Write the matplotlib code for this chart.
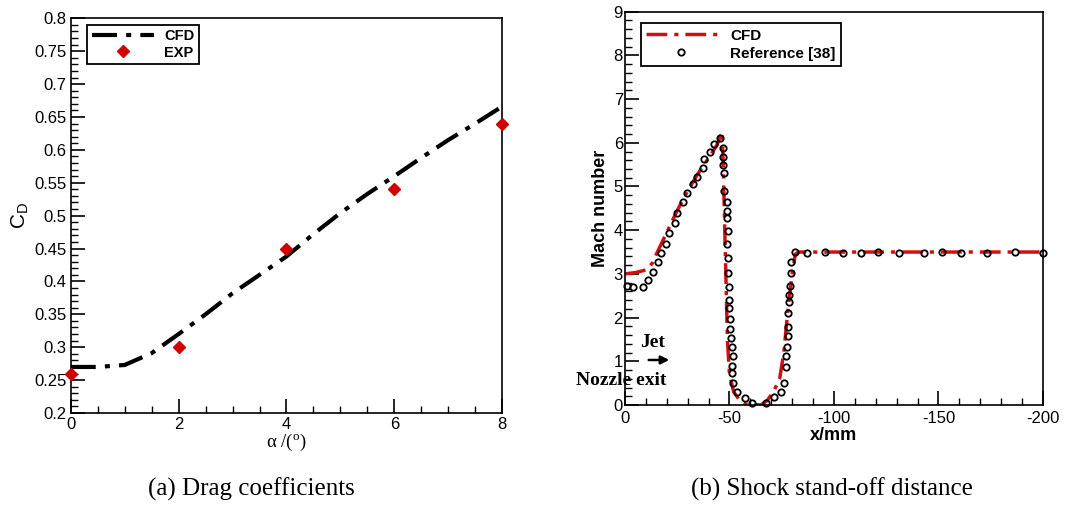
import matplotlib.pyplot as plt
import numpy as np
from matplotlib.ticker import MultipleLocator

plt.rcParams["font.family"] = ["Liberation Sans", "DejaVu Sans"]
plt.rcParams["mathtext.fontset"] = "custom"
plt.rcParams["mathtext.rm"] = "Liberation Sans"
plt.rcParams["axes.unicode_minus"] = False

# (a) drag coefficient vs angle of attack
cfd_alpha = [0, 0.5, 1, 1.5, 2, 2.5, 3, 3.5, 4, 4.5, 5, 5.5, 6, 6.5, 7, 7.5, 8]
cfd_cd = [0.270, 0.270, 0.273, 0.291, 0.320, 0.350, 0.382, 0.410, 0.438, 0.472,
          0.504, 0.533, 0.560, 0.588, 0.615, 0.640, 0.666]
exp_alpha = [0, 2, 4, 6, 8]
exp_cd = [0.26, 0.30, 0.45, 0.54, 0.64]

# (b) Mach number along the axis
cfd_x = [0, -5, -10, -13, -16, -20, -25, -30, -35, -40, -44, -46.5, -47, -47.5,
         -48, -48.5, -49, -50, -52, -55, -58, -65, -68, -71, -74, -76, -78, -80,
         -81.5, -83, -200]
cfd_ma = [3.0, 3.03, 3.09, 3.24, 3.55, 3.95, 4.45, 4.9, 5.3, 5.65, 5.95, 6.25,
          5.5, 4.5, 3.5, 2.5, 1.5, 0.7, 0.3, 0.1, 0.02, 0.0, 0.1, 0.3, 0.6, 1.2,
          2.2, 3.0, 3.45, 3.5, 3.5]
ref_x = [-1, -3.7, -8.8, -11.2, -13.6, -15.7, -17.3, -19.7, -21.2, -23.7, -24.8,
         -27.6, -29.8, -32.4, -34.6, -37.2, -37.7, -40.5, -42.8, -45.7,
         -46.8, -46.9, -47.1, -47.3, -47.2, -48.6, -48.9, -48.6, -49.2, -48.6,
         -49.2, -49.3, -49.7, -50.0, -50.0, -50.2, -50.2, -50.5, -51.0, -51.6,
         -51.3, -51.3, -51.8, -53.7, -57.2, -60.9, -67.3, -71.3, -74.5, -76.1,
         -76.9, -77.2, -77.7, -78.0, -78.0, -78.0, -78.5, -78.5, -79.0, -79.6,
         -79.6, -81.3, -87.3, -95.7, -104.2, -113.0, -121.3, -130.9, -143.1,
         -151.9, -161.0, -173.0, -186.7, -200]
ref_ma = [2.72, 2.69, 2.71, 2.85, 3.05, 3.27, 3.47, 3.68, 3.93, 4.17, 4.39,
          4.64, 4.86, 5.05, 5.22, 5.42, 5.62, 5.78, 5.97, 6.12,
          5.87, 5.68, 5.48, 5.30, 4.90, 4.64, 4.45, 4.27, 3.97, 3.68,
          3.36, 3.01, 2.69, 2.40, 2.21, 1.96, 1.75, 1.53, 1.33, 1.12,
          0.89, 0.74, 0.50, 0.30, 0.17, 0.04, 0.04, 0.19, 0.30, 0.51,
          0.88, 1.12, 1.33, 1.58, 1.79, 2.10, 2.36, 2.52, 2.72, 3.01,
          3.28, 3.49, 3.47, 3.49, 3.47, 3.48, 3.49, 3.47, 3.47,
          3.50, 3.47, 3.47, 3.49, 3.47]

fig = plt.figure(figsize=(10.8, 5.07), dpi=100)

# ---- panel (a)
ax1 = fig.add_axes([0.0655, 0.1854, 0.3995, 0.7785])
ax1.plot(cfd_alpha, cfd_cd, color="black", lw=3, dashes=(6, 2.2, 1.2, 2.2), label="CFD")
ax1.plot(exp_alpha, exp_cd, ls="none", marker="D", ms=6, color="#d00000",
         mec="#d00000", label="EXP", clip_on=False, zorder=5)
ax1.set_xlim(0, 8)
ax1.set_ylim(0.2, 0.8)
ax1.xaxis.set_major_locator(MultipleLocator(2))
ax1.xaxis.set_minor_locator(MultipleLocator(0.5))
ax1.yaxis.set_major_locator(MultipleLocator(0.05))
ax1.yaxis.set_minor_locator(MultipleLocator(0.01))
ax1.yaxis.set_major_formatter(lambda v, p: f"{v:.2f}".rstrip("0").rstrip("."))
ax1.tick_params(which="both", direction="in", top=False, right=False, labelsize=12, pad=3)
ax1.tick_params(which="major", length=10, width=1.2)
ax1.tick_params(which="minor", length=5, width=1)
ax1.set_xlabel(r"$\mathregular{\alpha}$ /($\mathregular{^o}$)", fontsize=13.5, labelpad=0,
               family=["Liberation Serif", "DejaVu Serif"])
ax1.set_ylabel(r"C$_\mathregular{D}$", fontsize=15, labelpad=2)
leg1 = ax1.legend(loc="upper left", bbox_to_anchor=(0.038, 0.983), borderaxespad=0,
                  fancybox=False, edgecolor="black", framealpha=1, handlelength=4.3,
                  borderpad=0.3, labelspacing=0.15, handletextpad=0.7,
                  prop={"weight": "bold", "size": 10.5})
leg1.get_frame().set_linewidth(1.3)
for s in ax1.spines.values():
    s.set_linewidth(1.2)

# ---- panel (b)
ax2 = fig.add_axes([0.5787, 0.2012, 0.387, 0.7758])
ax2.plot(cfd_x, cfd_ma, color="#d01010", lw=2.5, dashes=(6, 2, 1.2, 2), label="CFD")
ax2.plot(ref_x, ref_ma, ls="none", marker="o", ms=4.6, mfc="none", mec="black",
         mew=1.3, label="Reference [38]", clip_on=False, zorder=5)
ax2.set_xlim(0, -200)
ax2.set_ylim(0, 9)
ax2.xaxis.set_major_locator(MultipleLocator(50))
ax2.xaxis.set_minor_locator(MultipleLocator(10))
ax2.yaxis.set_major_locator(MultipleLocator(1))
ax2.yaxis.set_minor_locator(MultipleLocator(0.2))
ax2.tick_params(which="both", direction="in", top=False, right=False, labelsize=12, pad=1.5)
ax2.tick_params(axis="x", pad=4)
ax2.tick_params(which="major", length=10, width=1.2)
ax2.tick_params(which="minor", length=5, width=1)
ax2.set_xlabel("x/mm", fontsize=13, fontweight="bold", labelpad=1)
ax2.set_ylabel("Mach number", fontsize=13, fontweight="bold", labelpad=3)
leg2 = ax2.legend(loc="upper left", bbox_to_anchor=(0.038, 0.970), borderaxespad=0,
                  fancybox=False, edgecolor="black", framealpha=1, handlelength=4.6,
                  borderpad=0.35, labelspacing=0.25, handletextpad=0.9,
                  prop={"weight": "bold", "size": 11})
leg2.get_frame().set_linewidth(1.3)
for s in ax2.spines.values():
    s.set_linewidth(1.2)

ax2.text(-13.4, 1.42, "Jet", family="Liberation Serif", fontweight="bold", fontsize=14,
         ha="center", va="center")
ax2.annotate("", xy=(-22.5, 1.03), xytext=(-10, 1.03),
             arrowprops=dict(arrowstyle="-|>", color="black", lw=1.8, mutation_scale=12))
ax2.text(2, 0.57, "Nozzle exit", family="Liberation Serif", fontweight="bold", fontsize=14,
         ha="center", va="center", clip_on=False)

fig.text(0.233, 0.034, "(a) Drag coefficients", family="Liberation Serif", fontsize=18,
         ha="center", va="center")
fig.text(0.770, 0.034, "(b) Shock stand-off distance", family="Liberation Serif", fontsize=18,
         ha="center", va="center")

fig.savefig("out.png", dpi=100)
